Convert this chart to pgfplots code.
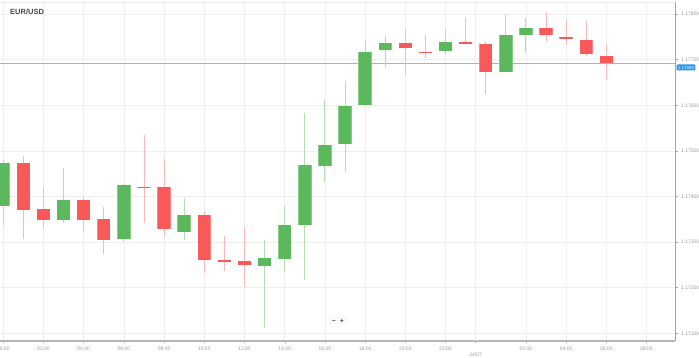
\documentclass[border=0pt]{standalone}
\usepackage{fontspec}
\setmainfont{Liberation Sans}
\usepackage{pgfplots}
\pgfplotsset{compat=1.18}
\definecolor{gbody}{HTML}{5CB85C}
\definecolor{gedge}{HTML}{86CC86}
\definecolor{gwick}{HTML}{B3DEB3}
\definecolor{rbody}{HTML}{F95959}
\definecolor{redge}{HTML}{FB8585}
\definecolor{rwick}{HTML}{FBB8B8}
\definecolor{gridc}{HTML}{EFEFEF}
\definecolor{tickc}{HTML}{9A9A9A}
\definecolor{priceline}{HTML}{7FC0EC}
\definecolor{pbox}{HTML}{2196F3}
% \up / \dn {hour}{open}{high}{low}{close}
\newcommand{\up}[5]{%
\addplot[draw=gwick, line width=0.9pt, mark=none, forget plot] coordinates {(#1,#4) (#1,#3)};
\addplot[draw=gedge, line width=13.4pt, line cap=butt, mark=none, forget plot] coordinates {(#1,#2) (#1,#5)};
\addplot[draw=gbody, line width=12.4pt, line cap=butt, mark=none, forget plot] coordinates {(#1,#2) (#1,#5)};}
\newcommand{\dn}[5]{%
\addplot[draw=rwick, line width=0.9pt, mark=none, forget plot] coordinates {(#1,#4) (#1,#3)};
\addplot[draw=redge, line width=13.4pt, line cap=butt, mark=none, forget plot] coordinates {(#1,#2) (#1,#5)};
\addplot[draw=rbody, line width=12.4pt, line cap=butt, mark=none, forget plot] coordinates {(#1,#2) (#1,#5)};}
\begin{document}
\begin{tikzpicture}
\begin{axis}[name=ax, scale only axis, width=675pt, height=339pt,
 xmin=-0.164, xmax=33.418, ymin=1.170831, ymax=1.178265,
 clip=false,
 axis x line*=bottom, axis y line*=right,
 x axis line style={draw=black!28, line width=1.3pt},
 y axis line style={draw=black!35, line width=0.8pt},
 xtick={0,2,4,6,8,10,12,14,16,18,20,22,26,28,30,32},
 xticklabels={00:00,02:00,04:00,06:00,08:00,10:00,12:00,14:00,16:00,18:00,20:00,22:00,02:00,04:00,06:00,08:00},
 extra x ticks={23.5}, extra x tick labels={24/07},
 extra x tick style={grid style={draw=black!13, line width=0.8pt}, xticklabel style={yshift=-6.5pt}},
 ytick={1.171,1.172,1.173,1.174,1.175,1.176,1.177,1.178},
 yticklabel style={font=\fontsize{5}{6}\selectfont, text=tickc, inner sep=0pt, xshift=3.5pt,
   /pgf/number format/fixed, /pgf/number format/precision=5, /pgf/number format/zerofill, /pgf/number format/assume math mode=true},
 yticklabel pos=right,
 tick align=outside, major tick length=2.5pt,
 tick style={draw=black!35, line width=0.4pt},
 xticklabel style={font=\fontsize{5}{6}\selectfont, text=tickc, inner sep=0pt, yshift=-3pt},
 grid=major, major grid style={draw=gridc, line width=0.6pt},
]
\addplot[draw=gridc, line width=0.6pt, forget plot] coordinates {(-0.164,1.178265) (33.418,1.178265)};
\addplot[draw=priceline, line width=1pt, mark=none, forget plot] coordinates {(-0.164,1.176921) (33.418,1.176921)};
\up{0}{1.173792}{1.174800}{1.173375}{1.174728}
\dn{1}{1.174741}{1.174888}{1.173075}{1.173704}
\dn{2}{1.173719}{1.174215}{1.173303}{1.173485}
\up{3}{1.173485}{1.174618}{1.173425}{1.173923}
\dn{4}{1.173923}{1.173996}{1.173228}{1.173485}
\dn{5}{1.173500}{1.173776}{1.172739}{1.173046}
\up{6}{1.173061}{1.174268}{1.173031}{1.174252}
\dn{7}{1.174215}{1.175349}{1.173412}{1.174180}
\dn{8}{1.174208}{1.174816}{1.173105}{1.173281}
\up{9}{1.173228}{1.173961}{1.173046}{1.173601}
\dn{10}{1.173594}{1.173667}{1.172316}{1.172607}
\dn{11}{1.172607}{1.173134}{1.172366}{1.172570}
\dn{12}{1.172586}{1.173303}{1.172022}{1.172498}
\up{13}{1.172476}{1.173046}{1.171110}{1.172645}
\up{14}{1.172636}{1.173792}{1.172338}{1.173382}
\up{15}{1.173368}{1.175825}{1.172169}{1.174684}
\up{16}{1.174675}{1.176116}{1.174325}{1.175123}
\up{17}{1.175151}{1.176533}{1.174566}{1.175991}
\up{18}{1.176007}{1.177432}{1.176007}{1.177169}
\up{19}{1.177213}{1.177520}{1.176840}{1.177366}
\dn{20}{1.177366}{1.177651}{1.176664}{1.177257}
\dn{21}{1.177169}{1.177542}{1.177031}{1.177158}
\up{22}{1.177197}{1.177667}{1.177103}{1.177382}
\dn{23}{1.177395}{1.177908}{1.177351}{1.177351}
\dn{24}{1.177338}{1.177382}{1.176248}{1.176737}
\up{25}{1.176730}{1.178002}{1.176730}{1.177548}
\up{26}{1.177535}{1.177908}{1.177140}{1.177702}
\dn{27}{1.177695}{1.178040}{1.177417}{1.177535}
\dn{28}{1.177504}{1.177820}{1.177322}{1.177447}
\dn{29}{1.177432}{1.177849}{1.177081}{1.177125}
\dn{30}{1.177088}{1.177322}{1.176570}{1.176921}
\node[anchor=west, font=\fontsize{7.5}{9}\selectfont\bfseries, text=black!72, inner sep=0pt] at (rel axis cs:0.0148,0.9705) {EUR/USD};
\node[fill=pbox, text=white, font=\fontsize{4.5}{5}\selectfont, inner xsep=1.2pt, inner ysep=1.4pt, rounded corners=1pt, anchor=west] at (rel axis cs:1.0022,0.8068) {1.17692};
\node[draw=black!12, fill=white, rounded corners=1.5pt, inner xsep=2pt, inner ysep=1pt, font=\fontsize{7}{7}\selectfont\bfseries, text=black!70] at (rel axis cs:0.5007,0.0590) {−\hspace{4pt}+};
\end{axis}
\pgfresetboundingbox
\path[use as bounding box] ([yshift=-17pt]ax.south west) rectangle ([xshift=24pt,yshift=2pt]ax.north east);
\end{tikzpicture}
\end{document}
